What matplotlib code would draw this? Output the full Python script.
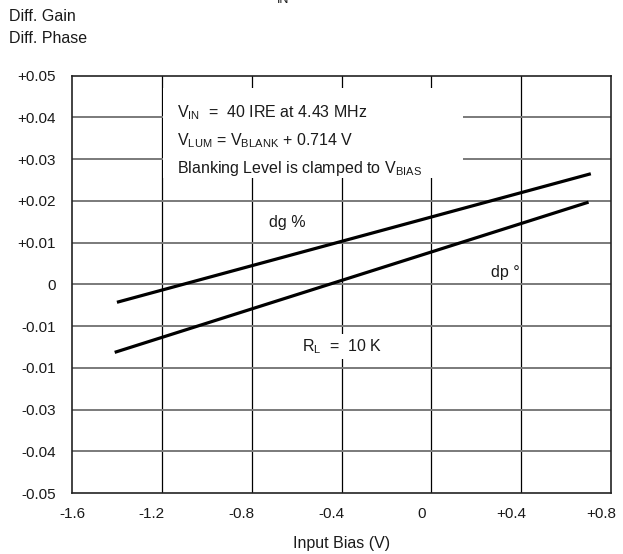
import matplotlib
matplotlib.use("Agg")
import matplotlib.pyplot as plt
import matplotlib.transforms as mtransforms
from matplotlib.patches import Rectangle

plt.rcParams['font.family'] = ['Liberation Sans', 'DejaVu Sans']
plt.rcParams['mathtext.fontset'] = 'custom'
plt.rcParams['mathtext.rm'] = 'Liberation Sans'
plt.rcParams['mathtext.it'] = 'Liberation Sans'

# data (two straight lines, end points)
bias_dg = [-1.40, 0.71]
dg = [-0.0043, 0.0265]
bias_dp = [-1.41, 0.70]
dp = [-0.0163, 0.0197]

x_ticks = [-1.6, -1.2, -0.8, -0.4, 0, 0.4, 0.8]
x_labels = ['-1.6', '-1.2', '-0.8', '-0.4', '0', '+0.4', '+0.8']
y_ticks = [0.05, 0.04, 0.03, 0.02, 0.01, 0, -0.01, -0.02, -0.03, -0.04, -0.05]
y_labels = ['+0.05', '+0.04', '+0.03', '+0.02', '+0.01', '0',
            '-0.01', '-0.01', '-0.03', '-0.04', '-0.05']

txt = '#1a1a1a'

fig = plt.figure(figsize=(6.23, 5.54), dpi=100)
ax = fig.add_axes([0.1156, 0.1101, 0.8652, 0.7533])

ax.set_xlim(-1.6, 0.8)
ax.set_ylim(-0.05, 0.05)
ax.set_xticks(x_ticks)
ax.set_xticklabels(x_labels)
ax.set_yticks(y_ticks)
ax.set_yticklabels(y_labels)
ax.tick_params(length=0, labelsize=11, colors=txt)
ax.tick_params(axis='y', pad=11.5)
ax.tick_params(axis='x', pad=10)

# the x labels in the original sit a little left of their grid lines
shift = mtransforms.ScaledTranslation(-10 / 100, 0, fig.dpi_scale_trans)
for lab in ax.get_xticklabels()[1:]:
    lab.set_transform(lab.get_transform() + shift)

for v in x_ticks[1:-1]:
    ax.axvline(v, color='black', lw=0.9, zorder=1)
for v in y_ticks[1:-1]:
    ax.axhline(v, color='#7a7a7a', lw=1.4, zorder=1)
for s in ax.spines.values():
    s.set_color('#222222')
    s.set_linewidth(1.2)

ax.plot(bias_dg, dg, color='black', lw=2.3, solid_capstyle='butt', zorder=3)
ax.plot(bias_dp, dp, color='black', lw=2.3, solid_capstyle='butt', zorder=3)

# white box behind the conditions note
ax.add_patch(Rectangle((0.169, 0.755), 0.556, 0.215, transform=ax.transAxes,
                       facecolor='white', edgecolor='none', zorder=2))
ax.text(0.195, 0.901, r'$\mathregular{V_{IN}}$  =  40 IRE at 4.43 MHz',
        transform=ax.transAxes, fontsize=11.5, color=txt, va='baseline', zorder=4)
ax.text(0.195, 0.834, r'$\mathregular{V_{LUM}}$ = $\mathregular{V_{BLANK}}$ + 0.714 V',
        transform=ax.transAxes, fontsize=11.5, color=txt, va='baseline', zorder=4)
ax.text(0.195, 0.767, r'Blanking Level is clamped to $\mathregular{V_{BIAS}}$',
        transform=ax.transAxes, fontsize=11.5, color=txt, va='baseline', zorder=4)

ax.text(-0.642, 0.0148, 'dg %', fontsize=11.5, color=txt, ha='center', va='center', zorder=4)
ax.text(0.33, 0.0028, 'dp °', fontsize=11.5, color=txt, ha='center', va='center', zorder=4)
ax.text(-0.397, -0.0150, r'$\mathregular{R_L}$  =  10 K', fontsize=11.5, color=txt,
        ha='center', va='center', zorder=4,
        bbox=dict(boxstyle='square,pad=0.2', facecolor='white', edgecolor='none'))

ax.set_xlabel('Input Bias (V)', fontsize=11.5, color=txt, labelpad=11)

fig.text(0.015, 0.970, 'Diff. Gain', fontsize=11.5, color=txt, va='center')
fig.text(0.015, 0.930, 'Diff. Phase', fontsize=11.5, color=txt, va='center')
# clipped subscript of the cut-off title
fig.text(0.445, 1 - 3 / 554, 'IN', fontsize=9, color=txt, va='baseline', ha='left')

fig.savefig('out.png', dpi=100)
